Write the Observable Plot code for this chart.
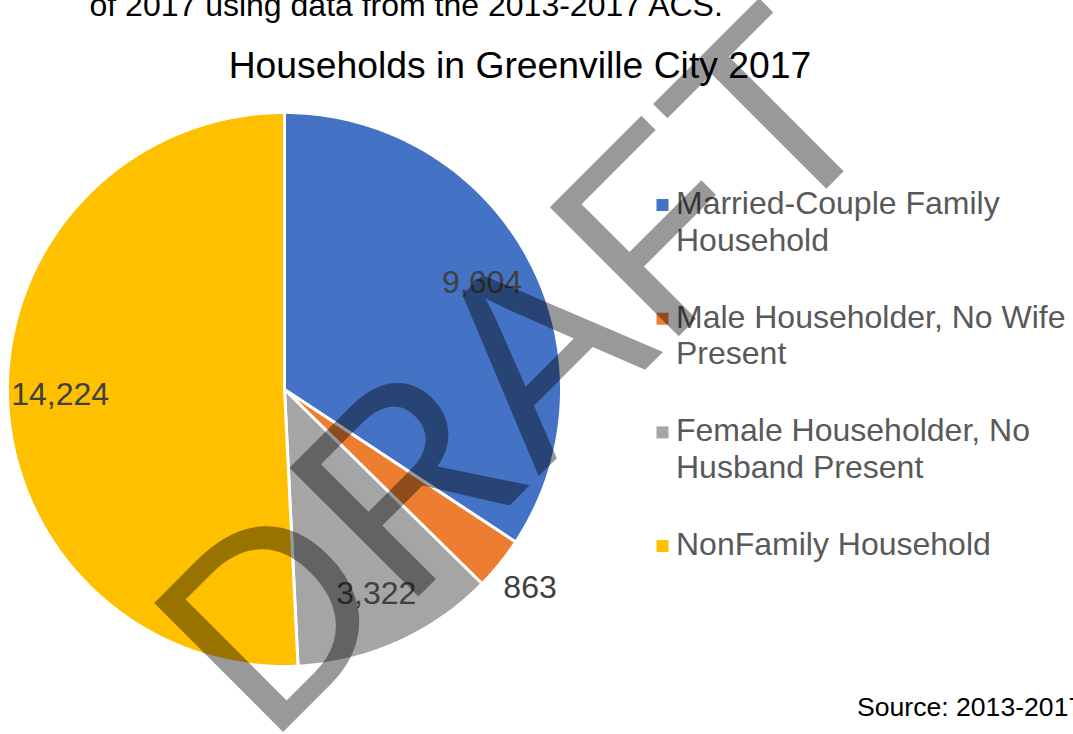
<!DOCTYPE html>
<html>
<head>
<meta charset="utf-8">
<script src="https://cdn.jsdelivr.net/npm/d3@7"></script>
<script src="https://cdn.jsdelivr.net/npm/@observablehq/plot@0.6"></script>
<style>
  html, body { margin: 0; padding: 0; background: #ffffff; overflow: hidden; }
  #wrap { position: relative; width: 1073px; height: 734px; overflow: hidden; font-family: "Liberation Sans", Arial, sans-serif; }
  #wrap > svg { position: absolute; left: 0; top: 0; }
</style>
</head>
<body>
<div id="wrap"></div>
<script>
// ---- data ----
const categories = [
  "Married-Couple Family Household",
  "Male Householder, No Wife Present",
  "Female Householder, No Husband Present",
  "NonFamily Household"
];
const values = [9604, 863, 3322, 14224];
const colors = ["#4472C4", "#ED7D31", "#A5A5A5", "#FFC000"];
const legendLines = [
  ["Married-Couple Family", "Household"],
  ["Male Householder, No Wife", "Present"],
  ["Female Householder, No", "Husband Present"],
  ["NonFamily Household"]
];
const titleText = "Households in Greenville City 2017";
const topText = "of 2017 using data from the 2013-2017 ACS.";
const sourceText = "Source: 2013-2017 American Community Survey";
const watermarkText = "DRAFT";

// ---- layout ----
const W = 1073, H = 734;
const cx = 284, cy = 389, R = 277;

const data = categories.map((c, i) => ({cat: c, value: values[i]}));
const total = d3.sum(values);
const arcs = d3.pie().sort(null).value(d => d.value)(data);

// polygon outline of each slice (unit radius), clockwise from 12 o'clock
const pts = [];
arcs.forEach(a => {
  const cat = a.data.cat;
  pts.push({cat, x: 0, y: 0});
  const n = Math.max(2, Math.ceil((a.endAngle - a.startAngle) / (Math.PI / 360)));
  for (let i = 0; i <= n; i++) {
    const t = a.startAngle + (a.endAngle - a.startAngle) * i / n;
    pts.push({cat, x: Math.sin(t), y: Math.cos(t)});
  }
});

// labels: inside at 0.81 r, small slices outside
const fmt = d3.format(",");
const labels = arcs.map(a => {
  const m = (a.startAngle + a.endAngle) / 2;
  const share = a.data.value / total;
  const rr = share < 0.05 ? 1.14 : 0.81;
  return {x: rr * Math.sin(m), y: rr * Math.cos(m), text: fmt(a.data.value)};
});

const chart = Plot.plot({
  width: W,
  height: H,
  margin: 0,
  style: {fontFamily: "'Liberation Sans', Arial, sans-serif", background: "transparent"},
  x: {domain: [-cx / R, (W - cx) / R], axis: null},
  y: {domain: [-(H - cy) / R, cy / R], axis: null},
  color: {domain: categories, range: colors},
  marks: [
    Plot.line(pts, {x: "x", y: "y", z: "cat", fill: "cat", stroke: "white", strokeWidth: 3, strokeLinejoin: "round", curve: "linear-closed"}),
    Plot.text(labels, {x: "x", y: "y", text: "text", fontSize: 32, fill: "#404040"})
  ]
});

const wrap = document.getElementById("wrap");
wrap.appendChild(chart);
const color = chart.scale("color");

// overlay for texts, legend, watermark
const ov = d3.select(wrap).append("svg")
  .attr("width", W).attr("height", H)
  .style("font-family", "'Liberation Sans', Arial, sans-serif");

ov.append("text").attr("x", 89.5).attr("y", 16).attr("font-size", 32).attr("fill", "#000").text(topText);
ov.append("text").attr("x", 228.7).attr("y", 77.7).attr("font-size", 37.3).attr("fill", "#000").text(titleText);
ov.append("text").attr("x", 857).attr("y", 716).attr("font-size", 26.6).attr("fill", "#000").text(sourceText);

// legend
legendLines.forEach((lines, i) => {
  const y0 = 214 + i * 113.7;
  ov.append("rect").attr("x", 656.5).attr("y", y0 - 15).attr("width", 12).attr("height", 12)
    .attr("fill", color.apply(categories[i]));
  lines.forEach((ln, j) => {
    ov.append("text").attr("x", 676).attr("y", y0 + j * 36.5).attr("font-size", 32).attr("fill", "#595959").text(ln);
  });
});

// watermark
ov.append("text")
  .attr("x", 580).attr("y", 435)
  .attr("text-anchor", "middle")
  .attr("transform", "rotate(-45 580 435)")
  .attr("font-size", 265)
  .attr("fill", "#000").attr("fill-opacity", 0.4)
  .text(watermarkText);
</script>
</body>
</html>
